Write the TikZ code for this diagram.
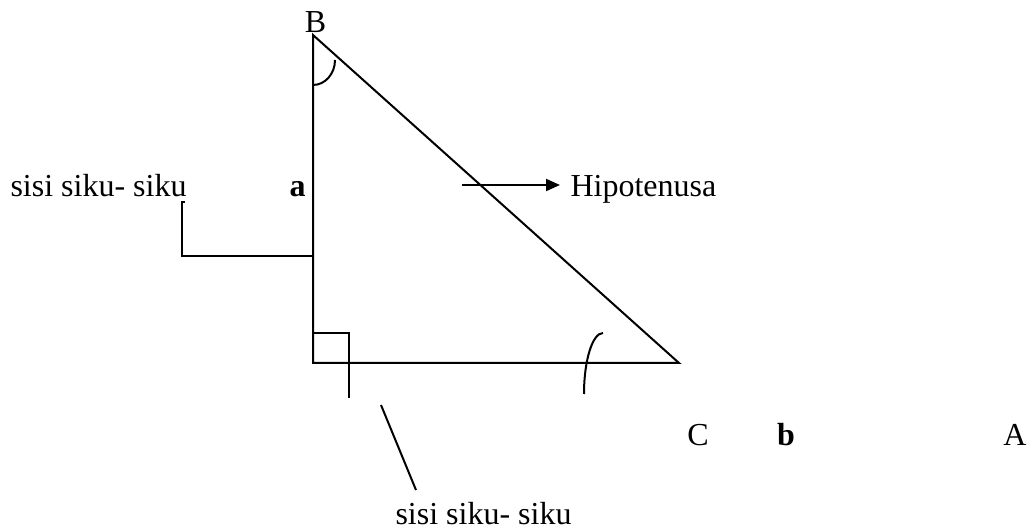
\documentclass[tikz,border=0pt]{standalone}
\usepackage{fontspec}
\setmainfont{Liberation Serif}
\usetikzlibrary{arrows.meta}
\begin{document}
\begin{tikzpicture}[x=0.375pt,y=-0.375pt,
  line/.style={line width=0.75pt},
  lbl/.style={inner sep=0pt,font=\fontsize{12}{14}\selectfont}]
\useasboundingbox (0,0) rectangle (1030,531);
% triangle vertices
\coordinate (B) at (313,35);
\coordinate (R) at (313,363);
\coordinate (V) at (679,363);
\draw[line] (B) -- (R) -- (V) -- cycle;
% right-angle mark with its pointer stub
\coordinate (s1) at (313,333);
\coordinate (s2) at (349,333);
\coordinate (s3) at (349,398);
\draw[line] (s1) -- (s2) -- (s3);
% angle arc at B
\draw[line] (313,85) arc[start angle=90,end angle=0,x radius=22,y radius=25];
% angle arc near the right vertex
\draw[line] (603,333) arc[start angle=270,end angle=180,x radius=19,y radius=61];
% labels
\node[lbl,anchor=base] (lB) at (315.5,33) {B};
\node[lbl,anchor=base west] (side1) at (10,197) {sisi siku- siku};
\node[lbl,anchor=base,font=\fontsize{12}{14}\selectfont\bfseries] (la) at (297.5,197) {a};
\node[lbl,anchor=base west] (hyp) at (570,197) {Hipotenusa};
\node[lbl,anchor=base] (lC) at (698,445) {C};
\node[lbl,anchor=base,font=\fontsize{12}{14}\selectfont\bfseries] (lb) at (786,445) {b};
\node[lbl,anchor=base] (lA) at (1015,445) {A};
\node[lbl,anchor=base west] (side2) at (395,525) {sisi siku- siku};
% bracket pointer from left label to side a
\coordinate (k0) at (185,202);
\coordinate (k1) at (182,202);
\coordinate (k2) at (182,256);
\coordinate (k3) at (313,256);
\draw[line] (k0) -- (k1) -- (k2) -- (k3);
% slanted pointer to bottom label
\coordinate (p0) at (381,405);
\coordinate (p1) at (416,490);
\draw[line] (p0) -- (p1);
% arrow to Hipotenusa
\coordinate (h0) at (462,185);
\coordinate (h1) at (560,185);
\draw[line,-{Triangle[length=5.25pt,width=4.5pt]}] (h0) -- (h1);
\end{tikzpicture}
\end{document}
